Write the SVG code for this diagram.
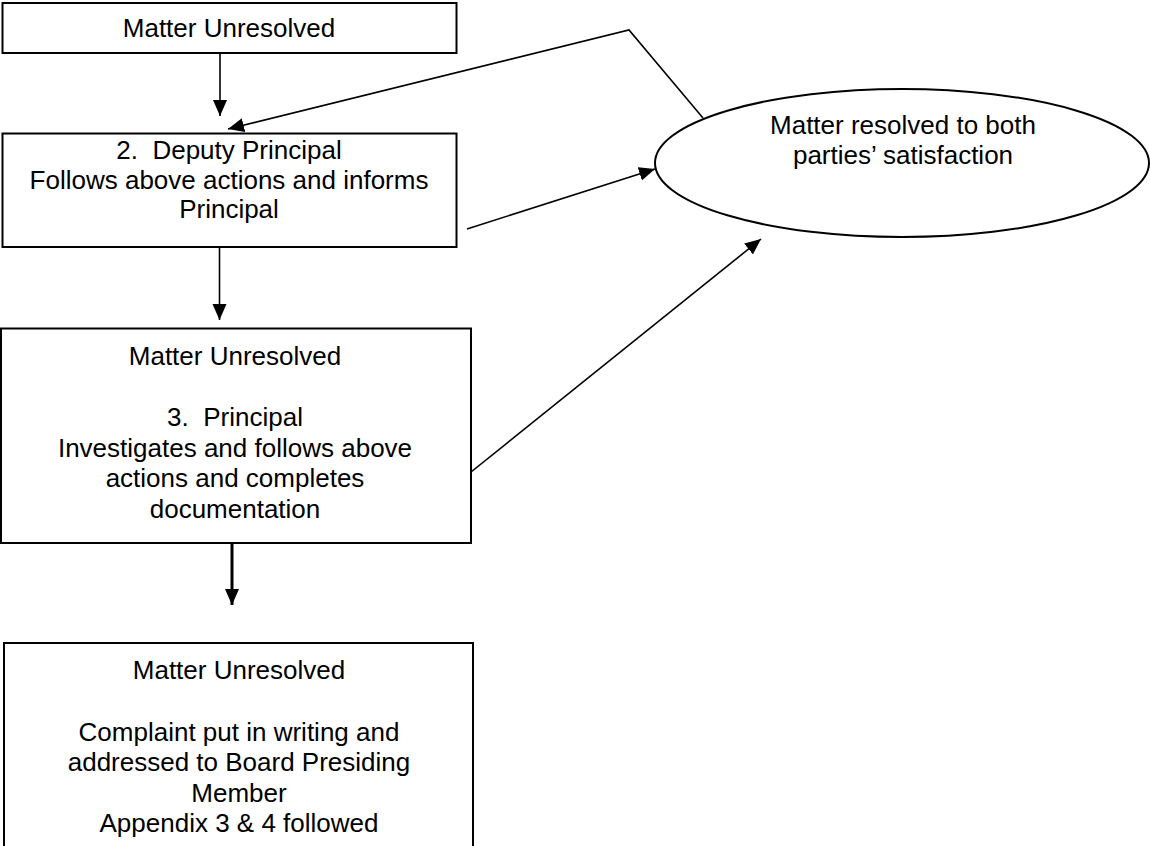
<svg xmlns="http://www.w3.org/2000/svg" width="1150" height="846" viewBox="0 0 1150 846">
<defs>
<style>
.box{fill:#fff;stroke:#000;stroke-width:2}
.t{font-family:"Liberation Sans",Arial,sans-serif;font-size:26px;fill:#000;text-anchor:middle}
.c{fill:none;stroke:#000;stroke-width:1.6}
.ca{fill:none;stroke:#000;stroke-width:1.6;marker-end:url(#ah)}
.thick{stroke-width:3}
</style>
<marker id="ah" markerUnits="userSpaceOnUse" markerWidth="17" markerHeight="15" refX="16" refY="7" orient="auto" viewBox="0 0 17 15">
<path d="M0,0 L16,7 L0,14 z" fill="#000"/>
</marker>
</defs>
<rect width="1150" height="846" fill="#fff"/>
<g id="node-unresolved-1">
<rect class="box" x="2.5" y="3" width="454" height="50"/>
<text class="t" x="229" y="37">Matter Unresolved</text>
</g>
<g id="node-deputy">
<rect class="box" x="2.5" y="133.5" width="454" height="113.5"/>
<text class="t" x="229" y="159" xml:space="preserve">2.  Deputy Principal</text>
<text class="t" x="229" y="188.5">Follows above actions and informs</text>
<text class="t" x="229" y="218">Principal</text>
</g>
<g id="node-principal">
<rect class="box" x="1" y="328.5" width="470" height="214.5"/>
<text class="t" x="235" y="365">Matter Unresolved</text>
<text class="t" x="235" y="426" xml:space="preserve">3.  Principal</text>
<text class="t" x="235" y="456.5">Investigates and follows above</text>
<text class="t" x="235" y="487">actions and completes</text>
<text class="t" x="235" y="517.5">documentation</text>
</g>
<g id="node-board">
<rect class="box" x="4" y="643" width="469" height="230"/>
<text class="t" x="239" y="679">Matter Unresolved</text>
<text class="t" x="239" y="740.5">Complaint put in writing and</text>
<text class="t" x="239" y="771">addressed to Board Presiding</text>
<text class="t" x="239" y="801.5">Member</text>
<text class="t" x="239" y="832">Appendix 3 &amp; 4 followed</text>
</g>
<g id="node-resolved">
<ellipse class="box" cx="902" cy="163" rx="247" ry="74"/>
<text class="t" x="903" y="133.5">Matter resolved to both</text>
<text class="t" x="903" y="163.5">parties’ satisfaction</text>
</g>
<g id="connectors">
<line class="ca" x1="220" y1="53" x2="220" y2="116"/>
<polyline class="ca" points="703,118 629,30 228,129"/>
<line class="ca" x1="467" y1="229" x2="655" y2="169"/>
<line class="ca" x1="219.5" y1="247" x2="219.5" y2="320"/>
<line class="ca" x1="471" y1="472" x2="761" y2="239"/>
<line class="ca thick" x1="232" y1="543" x2="232" y2="605"/>
</g>
</svg>
